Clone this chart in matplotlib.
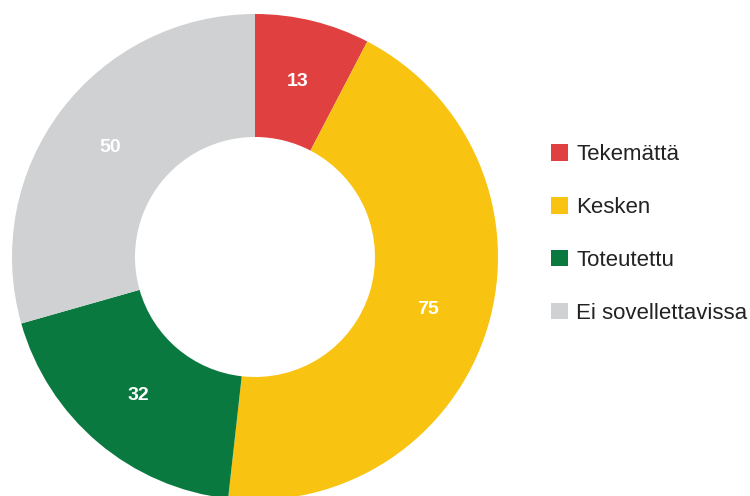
import matplotlib
import matplotlib.pyplot as plt
from matplotlib.patches import Patch
import numpy as np

matplotlib.use("Agg")

plt.rcParams["font.family"] = ["Liberation Sans", "DejaVu Sans"]

labels = ["Tekemättä", "Kesken", "Toteutettu", "Ei sovellettavissa"]
values = [13, 75, 32, 50]
colors = ["#e04040", "#f9c312", "#0a7940", "#cfd1d2"]

fig = plt.figure(figsize=(7.5, 4.96), dpi=100)

# donut: centre at (255, 257) px from top-left, outer radius 243 px
W, H = 750, 496
ax = fig.add_axes([12 / W, (H - 257 - 243) / H, 486 / W, 486 / H])
wedges, texts = ax.pie(
    values,
    colors=colors,
    startangle=90,
    counterclock=False,
    radius=1.0,
    wedgeprops=dict(width=1 - 120 / 243, linewidth=0),
)
for w, v in zip(wedges, values):
    ang = np.deg2rad((w.theta1 + w.theta2) / 2)
    r = 0.745
    ax.text(r * np.cos(ang), r * np.sin(ang), str(v), ha="center", va="center",
            color="white", fontsize=14, fontweight="bold")
ax.set_xlim(-1, 1)
ax.set_ylim(-1, 1)
ax.set_aspect("equal")
ax.axis("off")

handles = [Patch(facecolor=c, edgecolor="none") for c in colors]
fig.legend(
    handles, labels,
    loc="center left",
    bbox_to_anchor=(551 / W, 1 - 234 / H),
    frameon=False,
    fontsize=16,
    handlelength=0.77,
    handleheight=0.77,
    handletextpad=0.36,
    labelspacing=1.43,
    borderpad=0,
    borderaxespad=0,
    labelcolor="#222222",
)

fig.savefig("out.png", dpi=100)
